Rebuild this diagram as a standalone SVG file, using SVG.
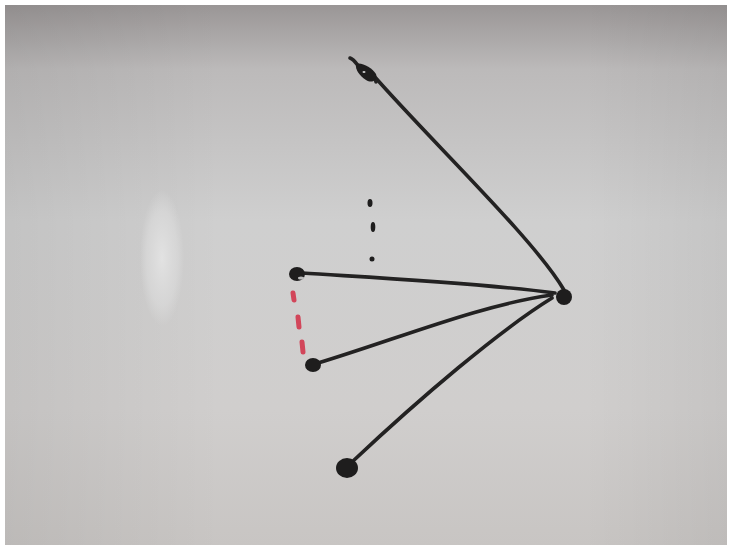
<svg xmlns="http://www.w3.org/2000/svg" width="732" height="550" viewBox="0 0 732 550">
<defs>
<linearGradient id="bg" x1="0" y1="0" x2="0" y2="1">
<stop offset="0" stop-color="#9a9696"/>
<stop offset="0.12" stop-color="#bcbaba"/>
<stop offset="0.4" stop-color="#cfcfcf"/>
<stop offset="0.75" stop-color="#d0cecd"/>
<stop offset="1" stop-color="#c8c5c3"/>
</linearGradient>
<linearGradient id="side" x1="0" y1="0" x2="1" y2="0">
<stop offset="0" stop-color="#000" stop-opacity="0.06"/>
<stop offset="0.3" stop-color="#000" stop-opacity="0"/>
<stop offset="0.8" stop-color="#000" stop-opacity="0"/>
<stop offset="1" stop-color="#000" stop-opacity="0.05"/>
</linearGradient>
<radialGradient id="smear" cx="0.5" cy="0.5" r="0.5">
<stop offset="0" stop-color="#e2e2e2"/>
<stop offset="0.7" stop-color="#dcdcdc" stop-opacity="0.6"/>
<stop offset="1" stop-color="#dcdcdc" stop-opacity="0"/>
</radialGradient>
<style>
.wire{fill:none;stroke:#232222;stroke-width:3.6;stroke-linecap:round}
.blob{fill:#1e1d1d}
.dash{stroke:#d2465a;stroke-width:5;stroke-linecap:round}
</style>
</defs>
<rect width="732" height="550" fill="#ffffff"/>
<rect x="5" y="5" width="722" height="540" fill="url(#bg)"/>
<rect x="5" y="5" width="722" height="540" fill="url(#side)"/>
<ellipse cx="162" cy="258" rx="22" ry="68" fill="url(#smear)"/>
<g id="connectors">
<path class="wire" d="M374,76 C430,140 535,240 564,290"/>
<path class="wire" d="M302,273 C380,278 480,283 555,293"/>
<path class="wire" d="M318,363 C400,338 480,305 552,295"/>
<path class="wire" d="M352,462 C420,398 500,330 552,298"/>
</g>
<g id="node-top">
<path class="wire" d="M350,58 C356,60 358,68 364,72 C370,74 376,76 376,82"/>
<path class="blob" d="M356,64 C362,62 372,68 376,74 C378,80 372,84 366,80 C360,76 355,70 356,64 Z"/>
<ellipse cx="364" cy="72" rx="1.5" ry="1" fill="#ccc"/>
</g>
<g id="node-hub">
<ellipse class="blob" cx="564" cy="297" rx="8" ry="8"/>
</g>
<g id="node-upper-left">
<ellipse class="blob" cx="297" cy="274" rx="8" ry="7"/>
<ellipse cx="301" cy="278" rx="3" ry="1.5" fill="#bbb"/>
</g>
<g id="node-lower-left">
<ellipse class="blob" cx="313" cy="365" rx="8" ry="7"/>
</g>
<g id="node-bottom">
<ellipse class="blob" cx="347" cy="468" rx="11" ry="10"/>
</g>
<g id="dots">
<ellipse class="blob" cx="370" cy="203" rx="2.5" ry="4"/>
<ellipse class="blob" cx="373" cy="227" rx="2.3" ry="5"/>
<ellipse class="blob" cx="372" cy="259" rx="2.5" ry="2.5"/>
</g>
<g id="red-dashes">
<line class="dash" x1="293" y1="293" x2="294" y2="300"/>
<line class="dash" x1="298" y1="317" x2="299" y2="327"/>
<line class="dash" x1="302" y1="342" x2="303" y2="352"/>
</g>
</svg>
